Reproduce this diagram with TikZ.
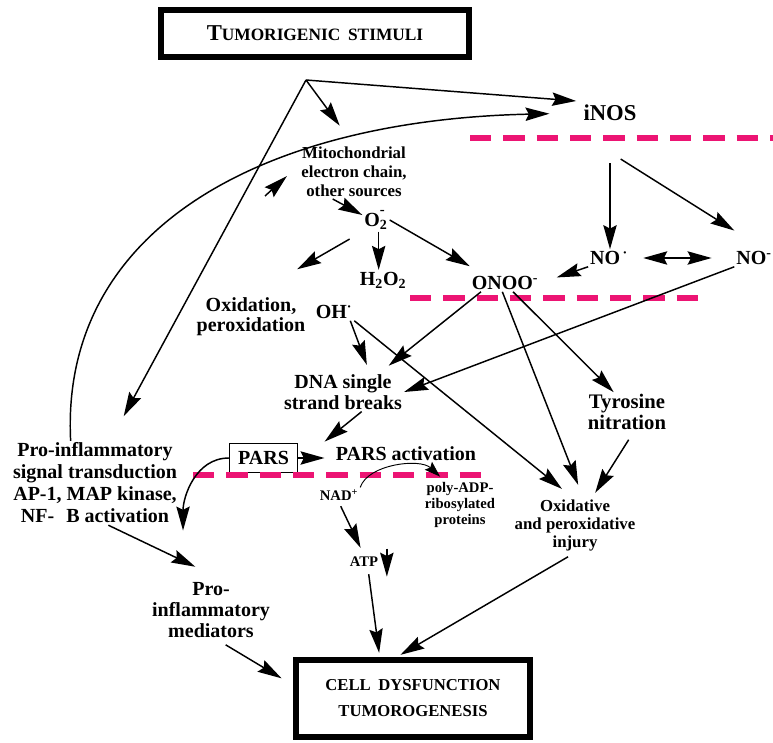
\documentclass[tikz,border=0pt]{standalone}
\usepackage{fontspec}
\setmainfont{Liberation Serif}
\usetikzlibrary{arrows.meta}
\definecolor{barpink}{RGB}{236,20,115}

\begin{document}
\begin{tikzpicture}[x=0.75pt, y=-0.75pt, line width=1.1pt,
    >={Stealth[length=18pt,width=10pt,inset=2.5pt]},
    txt/.style={inner sep=1pt, align=center, font=\bfseries\fontsize{15}{16.5}\selectfont},
    midtxt/.style={inner sep=1pt, align=center, font=\bfseries\fontsize{12.6}{14}\selectfont},
    smalltxt/.style={inner sep=1pt, align=center, font=\bfseries\fontsize{11}{12}\selectfont},
    bigbox/.style={draw, line width=4.5pt, inner sep=0pt, align=center},
    barrier/.style={draw=barpink, line width=5pt, dash pattern=on 16pt off 9pt}]

    \useasboundingbox (0,0) rectangle (773,742);

    % Define the framed boxes (top and bottom)
    \node[bigbox, minimum width=231pt, minimum height=35pt, font=\bfseries\fontsize{13}{15}\selectfont] (stim) at (315,33.5) {{\fontsize{17}{17}\selectfont T}UMORIGENIC\hspace{0.45em}STIMULI};
    \node[bigbox, minimum width=175.5pt, minimum height=58pt, font=\bfseries\fontsize{12.5}{19.5}\selectfont] (cell) at (413,698.5) {CELL\hspace{0.45em}DYSFUNCTION\\TUMOROGENESIS};

    % Define nodes in the upper part
    \coordinate (br) at (306,80);
    \node[txt, font=\bfseries\fontsize{17}{17}\selectfont] (inos) at (610,113) {iNOS};
    \node[midtxt, font=\bfseries\fontsize{12.6}{14.25}\selectfont] (mito) at (354,172) {Mitochondrial\\electron chain,\\other sources};
    \node[txt] (o2) at (376,220) {O\rlap{\raisebox{0.62em}{\fontsize{11}{11}\selectfont -}}\textsubscript{2}};
    \node[txt] (h2o2) at (383,280) {H\textsubscript{2}O\textsubscript{2}};
    \node[txt] (onoo) at (505,283) {ONOO\textsuperscript{-}};
    \node[txt] (no) at (609,258) {NO\textsuperscript{\,·}};
    \node[txt] (nom) at (754,258) {NO\textsuperscript{-}};
    \node[txt, font=\bfseries\fontsize{15}{15}\selectfont] (oxid) at (251,317) {Oxidation,\\peroxidation};
    \node[txt] (oh) at (334,312) {OH\textsuperscript{·}};

    % Define nodes in the middle part
    \node[txt, font=\bfseries\fontsize{15}{15.75}\selectfont] (dna) at (343,392) {DNA single\\strand breaks};
    \node[txt, font=\bfseries\fontsize{15.5}{15.75}\selectfont] (tyr) at (627,412) {Tyrosine\\nitration};
    \node[midtxt, font=\bfseries\fontsize{12.6}{13.5}\selectfont] (oxinj) at (575,525) {Oxidative\\and peroxidative\\injury};
    \node[draw, txt, line width=0.9pt, minimum width=51pt, minimum height=22pt] (pars) at (263.5,458) {PARS};
    \node[txt] (parsact) at (406,454) {PARS activation};
    \node[smalltxt] (nad) at (339,495) {NAD\textsuperscript{+}};
    \node[smalltxt] (poly) at (460,505) {poly-ADP-\\ribosylated\\proteins};
    \node[smalltxt] (atp) at (364,562) {ATP};

    % Define nodes in the left column
    \node[txt] (sig) at (95,483) {Pro-inflammatory\\signal transduction\\AP-1, MAP kinase,\\NF-\hspace{0.6em}B activation};
    \node[txt, font=\bfseries\fontsize{15}{16}\selectfont] (med) at (211,610) {Pro-\\inflammatory\\mediators};

    % Membrane barriers
    \draw[barrier] (470,138) -- (773,138);
    \draw[barrier] (410,298) -- (707,298);
    \draw[barrier] (193,475) -- (492,475);

    % Draw arrows leaving the stimuli
    \draw[->] (br) -- ([shift={(-4pt,9pt)}]inos.west);
    \draw[->, shorten >=18pt] (br) -- (mito.north);
    \draw[->, shorten >=21pt] (br) -- (sig.70);
    \draw[->, shorten >=24pt] (sig.120) .. controls (60,230) and (260,120) .. (inos.west);
    \coordinate (backS) at (265,196);
    \coordinate (backE) at (287,176);
    \draw[->] (backS) -- (backE);

    % Draw arrows of the radicals
    \draw[->] ([xshift=-16pt]mito.south) -- (o2.160);
    \draw[->] ([xshift=2pt]o2.south) -- ([xshift=2pt]o2.south |- h2o2.north);
    \draw[->, shorten <=11pt, shorten >=40pt] (o2.south west) -- (oxid.north);
    \draw[->] (o2.east) -- ([yshift=6pt]onoo.north west);
    \draw[->, shorten <=30pt] (inos.south) -- (inos.south |- no.north);
    \draw[->] ([shift={(8pt,-27pt)}]inos.south) -- ([yshift=14pt]nom.north west);
    \draw[<->, shorten <=10pt, shorten >=17pt] (no.east) -- (no.east -| nom.west);
    \draw[->, shorten >=13pt] (no.south west) -- (onoo.east);

    % Draw arrows of the middle part
    \draw[->] (nom.south west) -- (dna.east);
    \draw[->, shorten >=6pt] ([xshift=-3pt]oh.south east) -- ([xshift=20pt]dna.north);
    \draw[->, shorten >=10pt] (oh.south east) -- ([xshift=-2pt]oxinj.north);
    \draw[->, shorten >=8pt] ([xshift=-18pt]onoo.south) -- ([xshift=28pt]dna.north);
    \draw[->, shorten >=10pt] ([xshift=-2pt]onoo.south) -- ([xshift=6pt]oxinj.north);
    \draw[->] ([xshift=6pt]onoo.south) -- ([xshift=-10pt]tyr.north);
    \draw[->, shorten <=7pt, shorten >=4pt] ([xshift=5pt]tyr.south) -- ([xshift=13pt]oxinj.north);

    % Draw arrows around PARS
    \draw[->, shorten >=4pt] ([xshift=14pt]dna.south) -- ([xshift=-10pt]parsact.north west);
    \draw[->, shorten >=7pt] (pars.east) -- (pars.east -| parsact.west);
    \draw[->] (pars.west) to[out=180, in=90] ([shift={(3pt,-4pt)}]sig.south east);
    \draw[-{Stealth[length=12pt,width=8pt,inset=2pt]}, line width=0.7pt, shorten >=4pt] (nad.north east) .. controls (368,464) and (420,458) .. ([xshift=-12pt]poly.north);
    \draw[->, shorten <=3pt, shorten >=6pt] (nad.south) -- (atp.north);
    \draw[->] ([shift={(5pt,10pt)}]atp.east) -- ([shift={(5pt,-11pt)}]atp.east);

    % Draw arrows into the bottom box
    \draw[->, shorten <=4pt, shorten >=3pt] ([xshift=3pt]atp.south) -- ([xshift=-25pt]cell.north);
    \draw[->, shorten <=6pt, shorten >=3pt] (oxinj.south) -- ([xshift=-12pt]cell.north);
    \draw[->, shorten >=23pt] ([xshift=10pt]sig.south) -- ([xshift=9pt]med.north);
    \draw[->, shorten <=7pt, shorten >=10pt] ([xshift=5pt]med.south) -- ([yshift=10pt]cell.west);

\end{tikzpicture}
\end{document}
